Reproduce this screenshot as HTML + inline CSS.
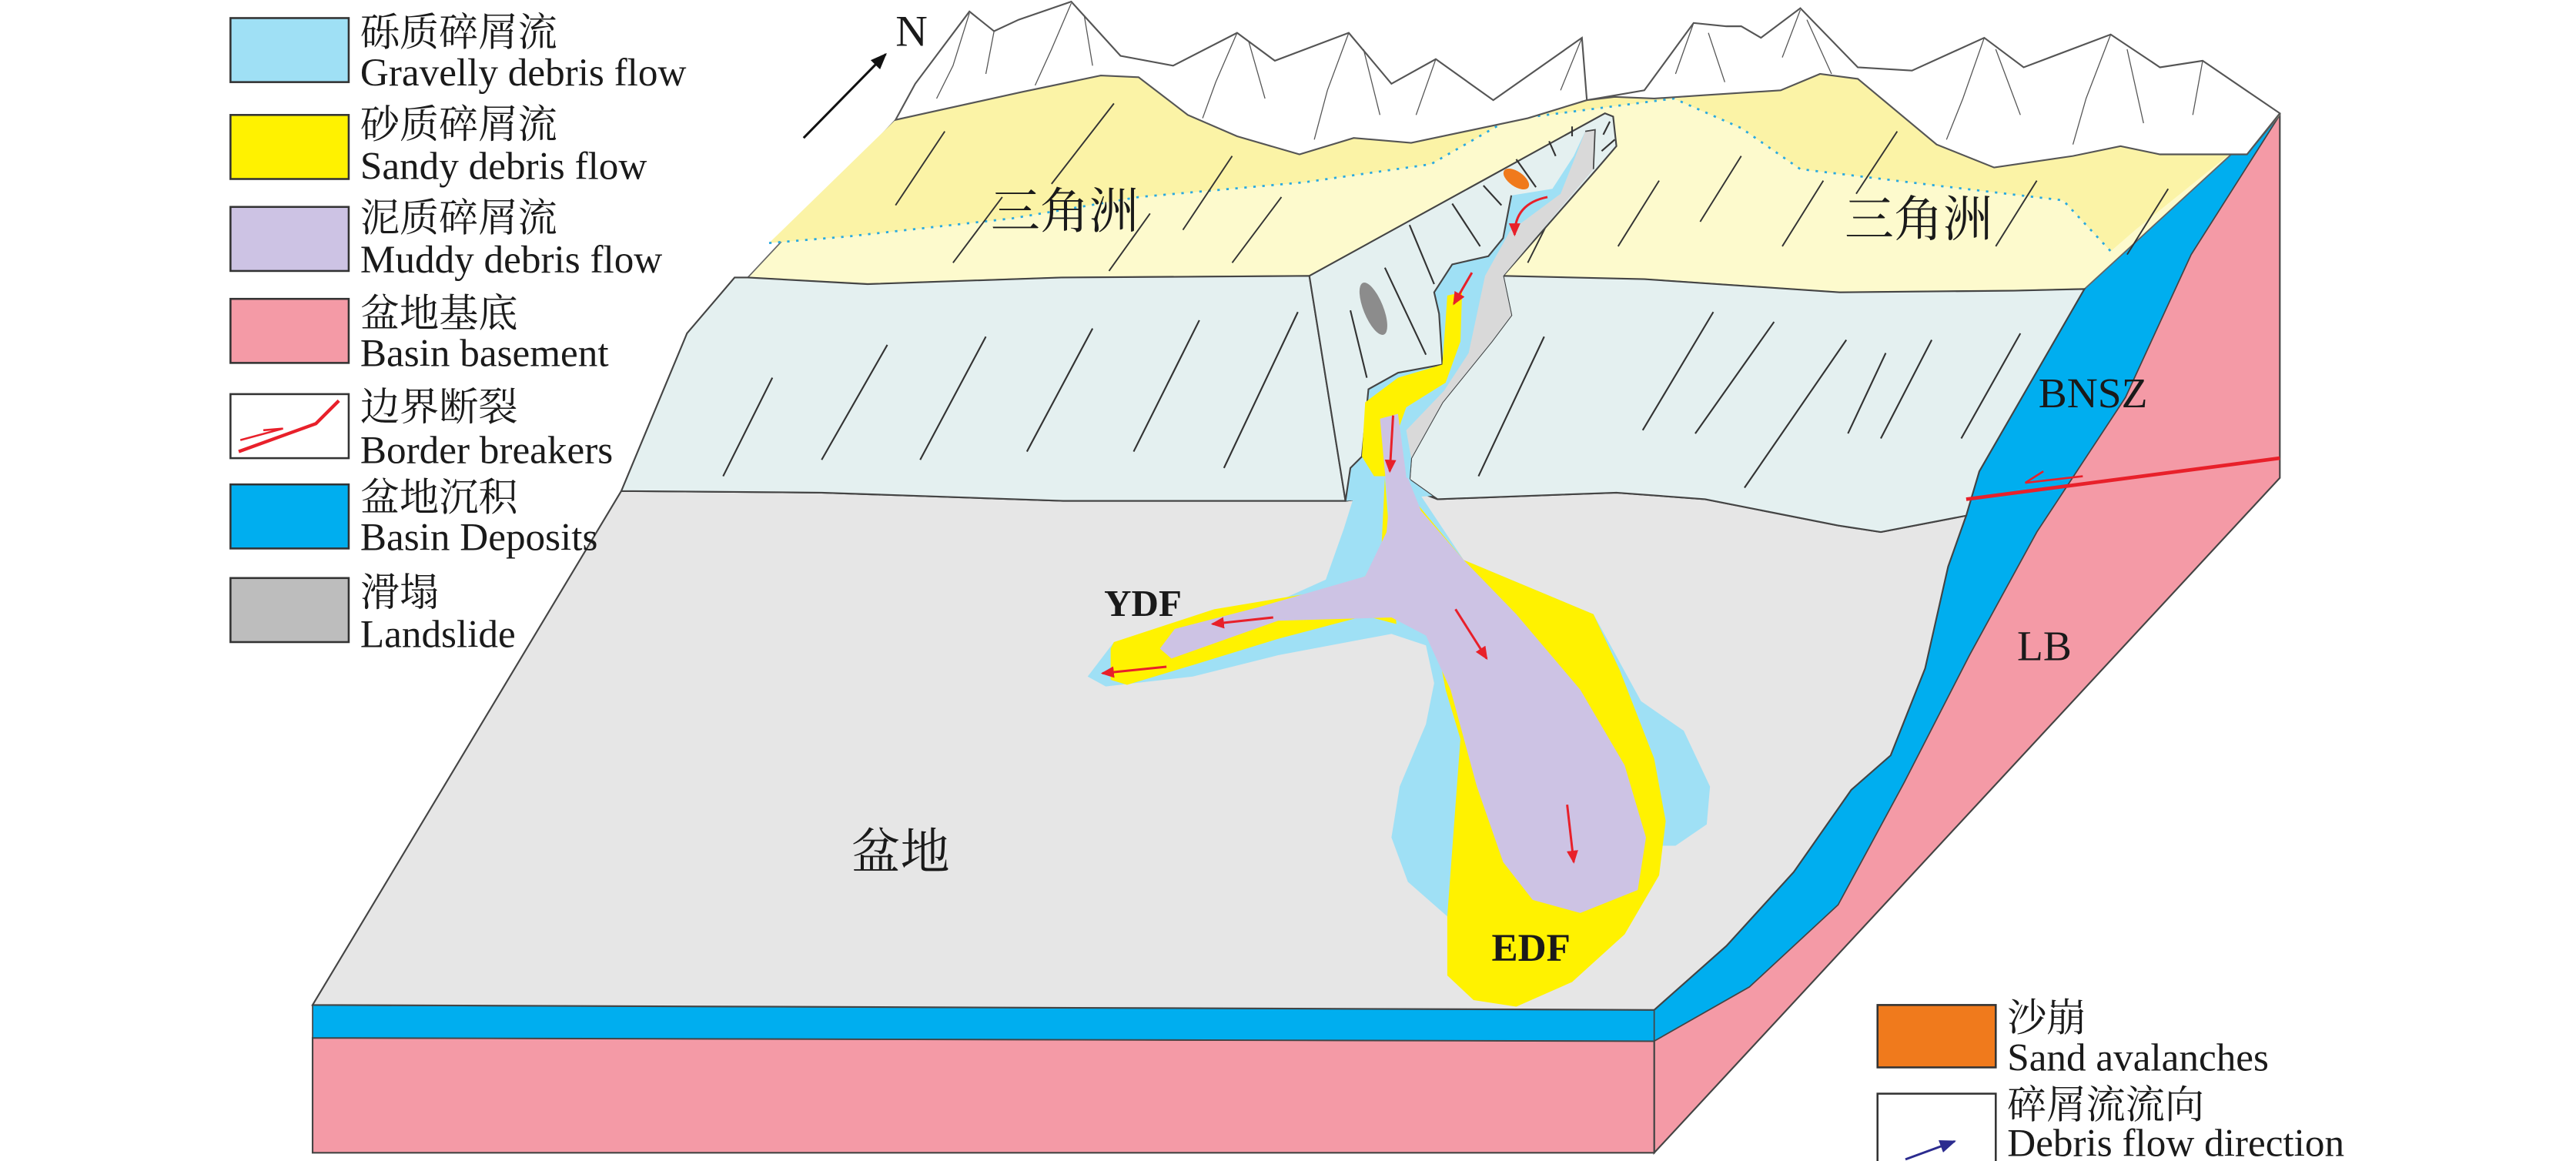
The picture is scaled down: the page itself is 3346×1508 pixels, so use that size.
<!DOCTYPE html>
<html><head><meta charset="utf-8"><style>
html,body{margin:0;padding:0;background:#fff;}
svg{display:block;}
text{font-family:"Liberation Serif","Noto Serif CJK SC","Noto Sans CJK SC",serif;fill:#1a1a1a;}
</style></head><body>
<svg width="3346" height="1508" viewBox="0 0 1568 707" xmlns="http://www.w3.org/2000/svg">
<defs>
<marker id="ar" markerWidth="10" markerHeight="10" refX="7" refY="3.5" orient="auto" markerUnits="userSpaceOnUse"><path d="M0,0 L8,3.5 L0,7 z" fill="#e8202a"/></marker>
<marker id="ab" markerWidth="12" markerHeight="12" refX="9" refY="4" orient="auto" markerUnits="userSpaceOnUse"><path d="M0,0 L10,4 L0,8 z" fill="#111"/></marker>
<marker id="an" markerWidth="12" markerHeight="12" refX="9" refY="4" orient="auto" markerUnits="userSpaceOnUse"><path d="M0,0 L10,4 L0,8 z" fill="#2b2b8f"/></marker>
</defs>

<polygon points="1007,615 1269,176 1388,70 1388,291 1007,702" fill="#f49aa6" stroke="#444" stroke-width="1"/>
<polygon points="1007,615 1051,576 1092,531 1127,481 1151,460 1172,407 1186,345 1197,314 1205,287 1269,176 1366,87 1388,70 1334,155 1294,242 1240,324 1199,399 1159,477 1119,551 1065,601 1007,634" fill="#00aeef" stroke="#444" stroke-width="0.8"/>
<polygon points="190,632 1007,634 1007,702 190,702" fill="#f49aa6" stroke="#444" stroke-width="1"/>
<polygon points="190,612 1007,615 1007,634 190,632" fill="#00aeef" stroke="#444" stroke-width="0.8"/>
<polygon points="190,612 1007,615 1051,576 1092,531 1127,481 1151,460 1172,407 1186,345 1197,314 1145,324 1119,320 1038,304 984,300 875,304 862,299 819,305 647,305 500,300 378,299" fill="#e6e6e6" stroke="#444" stroke-width="1"/>

<polygon points="545,73 563,69 622,56 670,46 693,47 723,70 753,83 791,94 824,84 859,87 930,72 966,61 983,59 1007,60 1037,58 1084,55 1108,45 1131,48 1179,88 1214,102 1262,95 1291,89 1315,94 1368,94 1388,70 1366,87 1269,176 1226,177 1120,178 1001,170 918,169 797,168 646,169 528,173 455,169" fill="#fdfacd" stroke="#666" stroke-width="0.8"/>
<polygon points="545,73 563,69 622,56 670,46 693,47 723,70 753,83 791,94 824,84 859,87 918,73 930,72 966,61 983,59 1007,60 1019,60 1037,58 1084,55 1108,45 1131,48 1179,88 1214,102 1262,95 1291,89 1315,94 1368,94 1388,70 1366,87 1300,140 1285,153 1256,122 1179,113 1096,103 1060,78 1019,60 918,73 871,100 794,111 693,120 616,133 516,144 468,148" fill="#fbf3a6"/>
<polyline points="468,148 516,144 616,133 693,120 794,111 871,100 918,73 1019,60 1060,78 1096,103 1179,113 1256,122 1285,153" fill="none" stroke="#29a9e0" stroke-width="1.3" stroke-dasharray="1.5,4"/>
<g stroke="#333" stroke-width="0.9">
<line x1="575" y1="80" x2="545" y2="125"/><line x1="678" y1="63" x2="640" y2="112"/><line x1="610" y1="120" x2="580" y2="160"/>
<line x1="750" y1="95" x2="720" y2="140"/><line x1="780" y1="120" x2="750" y2="160"/><line x1="700" y1="130" x2="675" y2="165"/>
<line x1="1010" y1="110" x2="985" y2="150"/><line x1="1060" y1="95" x2="1035" y2="135"/><line x1="1110" y1="110" x2="1085" y2="150"/>
<line x1="1155" y1="80" x2="1130" y2="118"/><line x1="1240" y1="110" x2="1215" y2="150"/><line x1="1320" y1="115" x2="1295" y2="155"/><line x1="950" y1="120" x2="930" y2="160"/>
</g>

<path d="M545,73 L557,51 L590,7 L605,19 L620,12 L652,1 L682,34 L714,40 L753,20 L776,37 L821,20 L847,51 L874,36 L909,61 L963,23 L966,61 L1001,55 L1031,14 L1051,16 L1060,16 L1072,23 L1096,5 L1131,41 L1164,43 L1208,23 L1232,41 L1285,21 L1315,41 L1341,37 L1388,69 L1368,94 L1315,94 L1291,89 L1262,95 L1214,102 L1179,88 L1131,48 L1108,45 L1084,55 L1037,58 L1007,60 L983,59 L966,61 L930,72 L859,87 L824,84 L791,94 L753,83 L723,70 L693,47 L670,46 L622,56 L563,69 Z" fill="#fff" stroke="#555" stroke-width="1"/>
<g stroke="#555" stroke-width="0.6" fill="none">
<path d="M590,8 L580,40 L570,60"/><path d="M605,19 L600,45"/><path d="M652,2 L640,30 L630,52"/><path d="M660,10 L665,40"/>
<path d="M753,20 L740,50 L732,72"/><path d="M760,25 L770,60"/><path d="M821,20 L808,55 L800,85"/><path d="M830,30 L840,70"/>
<path d="M874,36 L862,70"/><path d="M963,23 L950,55"/><path d="M1031,14 L1020,45"/><path d="M1040,20 L1050,50"/>
<path d="M1096,6 L1085,35"/><path d="M1100,12 L1115,45"/><path d="M1208,23 L1195,60 L1185,85"/><path d="M1215,30 L1230,70"/>
<path d="M1285,21 L1270,60 L1262,88"/><path d="M1295,30 L1305,75"/><path d="M1341,37 L1335,70"/>
</g>

<polygon points="455,169 528,173 646,169 797,168 819,305 647,305 500,300 378,299 418,203 447,169" fill="#e4f0f0" stroke="#444" stroke-width="1"/>
<polygon points="915,168 1001,170 1120,178 1226,177 1269,176 1205,287 1197,314 1145,324 1119,320 1038,304 984,300 875,304 872,302 858,292 859,279 878,245 908,208 920,192" fill="#e4f0f0" stroke="#444" stroke-width="1"/>
<polygon points="797,168 977,69 982,71 984,89 972,103 915,168 920,192 908,208 878,245 859,279 858,292 872,302 862,299 819,305" fill="#e4f0f0" stroke="#444" stroke-width="1"/>
<g stroke="#333" stroke-width="1">
<line x1="440" y1="290" x2="470" y2="230"/><line x1="500" y1="280" x2="540" y2="210"/><line x1="560" y1="280" x2="600" y2="205"/><line x1="625" y1="275" x2="665" y2="200"/><line x1="690" y1="275" x2="730" y2="195"/><line x1="745" y1="285" x2="790" y2="190"/>
<line x1="1000" y1="262" x2="1043" y2="190"/><line x1="1032" y1="264" x2="1080" y2="196"/><line x1="1062" y1="297" x2="1124" y2="207"/><line x1="1125" y1="264" x2="1148" y2="215"/><line x1="1145" y1="267" x2="1176" y2="207"/><line x1="1194" y1="267" x2="1230" y2="203"/>
<line x1="900" y1="290" x2="940" y2="205"/>
<line x1="858" y1="137" x2="873" y2="173"/><line x1="884" y1="124" x2="901" y2="150"/><line x1="903" y1="113" x2="914" y2="125"/><line x1="923" y1="97" x2="935" y2="114"/><line x1="943" y1="86" x2="947" y2="95"/><line x1="957" y1="77" x2="957" y2="83"/>
<line x1="843" y1="163" x2="868" y2="216"/><line x1="822" y1="189" x2="832" y2="230"/>
<line x1="980" y1="74" x2="976" y2="82"/><line x1="983" y1="85" x2="975" y2="92"/>
</g>

<polygon points="819,305 822,285 829,278 833,237 851,227 878,222 876,191 873,178 884,161 906,156 915,145 920,119 945,115 958,95 965,80 971,79 970,103 915,168 920,192 908,208 878,245 859,279 858,292 872,302" fill="#9fe0f5"/>
<polygon points="965,80 971,79 970,103 915,168 920,192 908,208 878,245 859,279 856,262 879,238 894,215 904,168 919,141 950,118 958,98" fill="#d9d9d9"/>
<polyline points="920,119 915,145 906,156 884,161 873,178 876,191 878,222 851,227 833,237 829,278 822,285 819,305" fill="none" stroke="#444" stroke-width="1"/>
<polyline points="965,80 971,79 970,103" fill="none" stroke="#444" stroke-width="0.8"/>
<polygon points="881,180 890,178 889,208 880,233 856,248 851,262 842,299 829,278 831,245 851,230 878,222 880,195" fill="#fff200"/>
<ellipse cx="836" cy="188" rx="6" ry="17" transform="rotate(-22 836 188)" fill="#8c8c8c"/>
<ellipse cx="923" cy="109" rx="9" ry="4.5" transform="rotate(35 923 109)" fill="#f07a1c"/>

<path d="M828,290 L818,322 L807,353 L778,366 L678,391 L662,412 L673,418 L726,412 L778,399 L847,386 L868,393 L873,416 L868,441 L852,479 L847,510 L857,537 L881,558 L1010,515 L1020,515 L1039,502 L1041,479 L1025,445 L999,427 L970,374 L891,341 L857,290 Z" fill="#9fe0f5"/>
<path d="M857,300 L891,341 L970,374 L986,408 L1007,462 L1014,500 L1010,533 L989,569 L957,598 L923,613 L897,609 L881,594 L881,558 L889,450 L880,420 Z" fill="#fff200"/>
<path d="M678,391 L739,371 L805,360 L831,351 L841,332 L843,291 L850,380 L831,375 L778,389 L726,405 L686,417 L676,414 L676,395 Z" fill="#fff200"/>
<path d="M847,291 L857,291 L865,311 L891,341 L923,374 L962,420 L989,466 L1002,510 L997,542 L962,556 L933,548 L915,525 L899,479 L883,420 L868,387 L847,376 L778,378 L713,401 L706,395 L715,383 L765,370 L831,351 L844,324 Z" fill="#cdc3e4"/>
<polygon points="840,255 851,252 856,290 859,323 846,320" fill="#cdc3e4"/>

<g stroke="#e8202a" stroke-width="1.4" fill="none">
<path d="M942,120 Q922,124 922,143" marker-end="url(#ar)"/>
<line x1="896" y1="166" x2="885" y2="185" marker-end="url(#ar)"/>
<line x1="848" y1="253" x2="846" y2="287" marker-end="url(#ar)"/>
<line x1="886" y1="371" x2="905" y2="401" marker-end="url(#ar)"/>
<line x1="954" y1="490" x2="958" y2="525" marker-end="url(#ar)"/>
<line x1="775" y1="376" x2="738" y2="380" marker-end="url(#ar)"/>
<line x1="710" y1="406" x2="671" y2="410" marker-end="url(#ar)"/>
</g>
<path d="M1197,304 Q1253,297 1388,279" stroke="#e8202a" stroke-width="2.2" fill="none"/>
<path d="M1268,290 L1233,294 L1244,287" stroke="#e8202a" stroke-width="1.2" fill="none"/>

<line x1="489" y1="84" x2="539" y2="33" stroke="#111" stroke-width="1.4" marker-end="url(#ab)"/>
<text x="545" y="28" font-size="27">N</text>
<text x="603" y="139" font-size="30">三角洲</text>
<text x="1123" y="144" font-size="30">三角洲</text>
<text x="518" y="529" font-size="30">盆地</text>
<text x="672" y="375" font-size="23" font-weight="bold">YDF</text>
<text x="908" y="585" font-size="24" font-weight="bold">EDF</text>
<text x="1241" y="248" font-size="26">BNSZ</text>
<text x="1228" y="402" font-size="26">LB</text>

<g stroke="#333" stroke-width="1.2">
<rect x="140" y="11" width="72" height="39" fill="#9fe0f5"/>
<rect x="140" y="70" width="72" height="39" fill="#fff200"/>
<rect x="140" y="126" width="72" height="39" fill="#cdc3e4"/>
<rect x="140" y="182" width="72" height="39" fill="#f49aa6"/>
<rect x="140" y="240" width="72" height="39" fill="#fff"/>
<rect x="140" y="295" width="72" height="39" fill="#00aeef"/>
<rect x="140" y="352" width="72" height="39" fill="#bdbdbd"/>
<rect x="1143" y="612" width="72" height="38" fill="#f07a1c"/>
<rect x="1143" y="666" width="72" height="45" fill="#fff"/>
</g>
<path d="M145,275 L192,258 L206,244" stroke="#e8202a" stroke-width="2" fill="none"/>
<path d="M146,268 L172,261 L160,262" stroke="#e8202a" stroke-width="1.2" fill="none"/>
<line x1="1160" y1="706" x2="1190" y2="695" stroke="#2b2b8f" stroke-width="1.4" marker-end="url(#an)"/>
<g font-size="24">
<text x="219" y="28">砾质碎屑流</text><text x="219" y="52">Gravelly debris flow</text>
<text x="219" y="84">砂质碎屑流</text><text x="219" y="109">Sandy debris flow</text>
<text x="219" y="141">泥质碎屑流</text><text x="219" y="166">Muddy debris flow</text>
<text x="219" y="199">盆地基底</text><text x="219" y="223">Basin basement</text>
<text x="219" y="256">边界断裂</text><text x="219" y="282">Border breakers</text>
<text x="219" y="311">盆地沉积</text><text x="219" y="335">Basin Deposits</text>
<text x="219" y="369">滑塌</text><text x="219" y="394">Landslide</text>
<text x="1222" y="628">沙崩</text><text x="1222" y="652">Sand avalanches</text>
<text x="1222" y="681">碎屑流流向</text><text x="1222" y="704">Debris flow direction</text>
</g>
</svg>
</body></html>
